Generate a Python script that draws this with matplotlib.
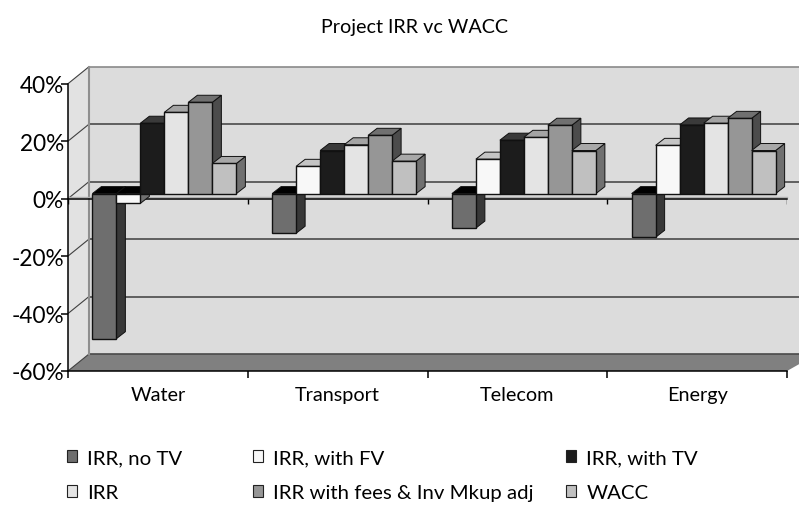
import matplotlib
matplotlib.use("Agg")
import matplotlib.pyplot as plt
from matplotlib.patches import Polygon, Patch

categories = ["Water", "Transport", "Telecom", "Energy"]
series_names = ["IRR, no TV", "IRR, with FV", "IRR, with TV", "IRR",
                "IRR with fees & Inv Mkup adj", "WACC"]
irr_no_tv = [-50.5, -13.8, -12.0, -15.2]
irr_with_fv = [-3.4, 9.5, 12.0, 16.8]
irr_with_tv = [24.5, 15.0, 18.6, 23.9]
irr = [28.3, 17.0, 19.6, 24.5]
irr_fees = [31.8, 20.3, 23.8, 26.2]
wacc = [10.5, 11.3, 15.0, 15.0]
all_series = [irr_no_tv, irr_with_fv, irr_with_tv, irr, irr_fees, wacc]
y_ticks = [-60, -40, -20, 0, 20, 40]

front = ["#6e6e6e", "#f8f8f8", "#1c1c1c", "#e4e4e4", "#969696", "#c0c0c0"]
top = ["#000000", "#c4c4c4", "#3a3a3a", "#a4a4a4", "#707070", "#a8a8a8"]
side = ["#383838", "#707070", "#2a2a2a", "#808080", "#4c4c4c", "#707070"]

FONT = ["Lato", "DejaVu Sans"]
plt.rcParams["font.family"] = FONT
W, H = 799, 506
L, R, T, B = 68, 787, 84.7, 372
fig = plt.figure(figsize=(W / 100, H / 100), dpi=100)
ax = fig.add_axes([L / W, 1 - B / H, (R - L) / W, (B - T) / H])
ax.set_xlim(0, 4)
ax.set_ylim(-60, 40)
ax.patch.set_visible(False)

px = 4 / (R - L)
py = 100 / (B - T)
wall_dx, wall_dy = 21 * px, 17 * py
bar_sx, bar_sy = 6.5 * px, 5 * py
depth_dx, depth_dy = 9 * px, 7 * py
bar_w = 24 * px
xr = 4 + 30 * px


def poly(pts, fc, ec="none", lw=0, z=1):
    ax.add_patch(Polygon(pts, closed=True, facecolor=fc, edgecolor=ec,
                         linewidth=lw, zorder=z, clip_on=False))


# walls and floor
poly([(wall_dx, -60 + wall_dy), (xr, -60 + wall_dy), (xr, 40 + wall_dy), (wall_dx, 40 + wall_dy)], "#dcdcdc", z=1)
poly([(0, -60), (wall_dx, -60 + wall_dy), (wall_dx, 40 + wall_dy), (0, 40)], "#e2e2e2", z=1)
poly([(0, -60), (wall_dx, -60 + wall_dy), (xr, -60 + wall_dy), (4, -60)], "#808080", z=1)

for t in y_ticks:
    c = "#8a8a8a" if t == 40 else "#4a4a4a"
    ax.plot([wall_dx, xr], [t + wall_dy] * 2, color=c, lw=1.2, zorder=2, clip_on=False)
    ax.plot([0, wall_dx], [t, t + wall_dy], color="#404040", lw=0.8, zorder=2, clip_on=False)
ax.plot([wall_dx, wall_dx], [-60 + wall_dy, 40 + wall_dy], color="#8f8f8f", lw=1.5, zorder=2, clip_on=False)

# zero axis line with its ticks
ax.plot([0, 4], [0.5, 0.5], color="#b0b0b0", lw=1, zorder=2.5, clip_on=False)
ax.plot([0, 4], [0, 0], color="black", lw=1.1, zorder=3, clip_on=False)
ax.vlines(range(5), -5 * py, 0, color="black", lw=1, zorder=3)

# bars, painted left to right so each front hides its neighbour's side
z = 4
for c_i in range(len(categories)):
    x0 = c_i + 0.5 - 3 * bar_w + bar_sx
    for s_i, values in enumerate(all_series):
        v = values[c_i]
        xl = x0 + s_i * bar_w
        xh = xl + bar_w
        lo, hi = sorted((0, v))
        lo, hi = lo + bar_sy, hi + bar_sy
        top_c = "#000000" if v < 0 else top[s_i]
        poly([(xh, lo), (xh + depth_dx, lo + depth_dy), (xh + depth_dx, hi + depth_dy), (xh, hi)],
             side[s_i], ec="#111111", lw=0.7, z=z)
        poly([(xl, hi), (xl + depth_dx, hi + depth_dy), (xh + depth_dx, hi + depth_dy), (xh, hi)],
             top_c, ec="#111111", lw=0.7, z=z)
        ax.bar(xl, hi - lo, width=bar_w, bottom=lo, align="edge", color=front[s_i],
               edgecolor="#111111", linewidth=1.0, zorder=z + 0.5, clip_on=False)
        z += 1

# axes furniture
for s in ("top", "right"):
    ax.spines[s].set_visible(False)
for s in ("left", "bottom"):
    ax.spines[s].set_linewidth(1.1)
    ax.spines[s].set_zorder(3)
ax.set_yticks(y_ticks)
ax.set_yticklabels([f"{t}%" for t in y_ticks])
ax.tick_params(axis="y", length=5, width=1.1, labelsize=16.3, pad=-2)
ax.set_xticks(range(5))
ax.set_xticklabels([])
ax.tick_params(axis="x", which="major", length=5, width=1.1)
ax.set_xticks([i + 0.5 for i in range(4)], minor=True)
ax.set_xticklabels(categories, minor=True)
ax.tick_params(axis="x", which="minor", length=0, labelsize=14.3, pad=10.5)

fig.text(415 / W, 1 - 27.5 / H, "Project IRR vc WACC", ha="center", va="center", fontsize=14.2)

# legend columns
handles = [Patch(facecolor=f, edgecolor="#222222", linewidth=0.8) for f in front]
cols = [(0, 3, 67), (1, 4, 253), (2, 5, 566)]
for a, b, xp in cols:
    fig.legend([handles[a], handles[b]], [series_names[a], series_names[b]],
               loc="upper left", bbox_to_anchor=(xp / W, 1 - 450 / H), ncol=1,
               frameon=False, fontsize=14.7, handlelength=0.5, handleheight=0.5,
               handletextpad=0.5, labelspacing=0.9, borderpad=0, borderaxespad=0)

fig.savefig("out.png", dpi=100)
